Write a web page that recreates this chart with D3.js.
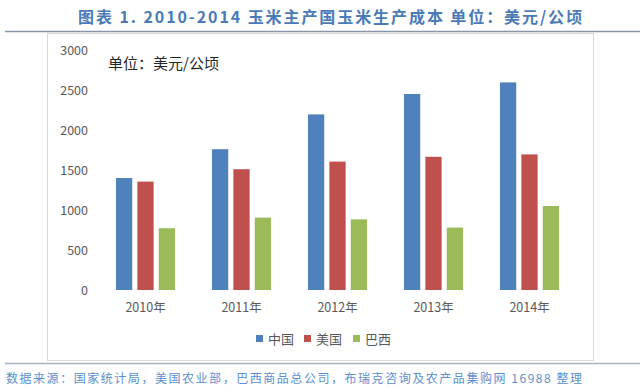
<!DOCTYPE html>
<html><head><meta charset="utf-8">
<script src="https://cdn.jsdelivr.net/npm/d3@7/dist/d3.min.js"></script>
<style>body{margin:0;background:#fff;}svg{display:block;}</style>
</head><body><svg id="c" width="640" height="389"></svg>
<script>
const categories = ["2010年","2011年","2012年","2013年","2014年"];
const seriesNames = ["中国","美国","巴西"];
const china = [1400, 1760, 2195, 2450, 2595];
const usa = [1355, 1510, 1605, 1665, 1695];
const brazil = [772, 905, 883, 780, 1050];
const yTicks = [0, 500, 1000, 1500, 2000, 2500, 3000];
const colors = ["#4F81BD", "#C0504D", "#9BBB59"];
const seriesValues = [china, usa, brazil];

const svg = d3.select("#c");
const font = "'Noto Sans CJK SC', 'Noto Sans', sans-serif";

// title
svg.append("text").attr("x", 78).attr("y", 23)
  .attr("font-family", font).attr("font-weight", "bold").attr("font-size", 16)
  .attr("textLength", 504).attr("lengthAdjust", "spacing")
  .attr("fill", "#4a7ab8").text("图表 1. 2010-2014  玉米主产国玉米生产成本 单位：美元/公顷");
svg.append("line").attr("x1", 5).attr("x2", 640).attr("y1", 31.5).attr("y2", 31.5)
  .attr("stroke", "#8796a8").attr("stroke-width", 1.3);
// chart box
svg.append("rect").attr("x", 47.5).attr("y", 33.5).attr("width", 546).attr("height", 327)
  .attr("fill", "#fff").attr("stroke", "#d9d9d9").attr("stroke-width", 1);
svg.append("line").attr("x1", 5).attr("x2", 640).attr("y1", 363.5).attr("y2", 363.5)
  .attr("stroke", "#a9b4c2").attr("stroke-width", 1.3);

const y = d3.scaleLinear().domain([0, 3000]).range([290, 50]);
const x0 = d3.scaleBand().domain(categories).range([97.5, 577.5]).paddingInner(0.385).paddingOuter(0.1925);
const x1 = d3.scaleBand().domain(seriesNames).range([0, x0.bandwidth()]).paddingInner(0.24);

// y axis
const ya = svg.append("g").attr("transform", "translate(88,0)")
  .call(d3.axisLeft(y).tickValues(yTicks).tickSize(0).tickPadding(0).tickFormat(d3.format("d")));
ya.select(".domain").remove();
ya.selectAll("text").attr("font-family", font).attr("font-size", 12.5).attr("fill", "#595959");

// x axis
const xa = svg.append("g").attr("transform", "translate(0,298)")
  .call(d3.axisBottom(x0).tickSize(0).tickPadding(5));
xa.select(".domain").remove();
xa.selectAll("text").attr("font-family", font).attr("font-size", 12.5).attr("fill", "#595959");

// bars
seriesNames.forEach((s, si) => {
  svg.append("g").selectAll("rect").data(seriesValues[si]).join("rect")
    .attr("x", (d, i) => x0(categories[i]) + x1(s))
    .attr("y", d => y(d))
    .attr("width", x1.bandwidth())
    .attr("height", d => y(0) - y(d))
    .attr("fill", colors[si]);
});

// unit note
svg.append("text").attr("x", 108).attr("y", 69).attr("font-family", font)
  .attr("font-size", 15).attr("fill", "#262626").text("单位：美元/公顷");

// legend
const legendX = [256, 304, 353];
seriesNames.forEach((s, i) => {
  svg.append("rect").attr("x", legendX[i]).attr("y", 335).attr("width", 7).attr("height", 7).attr("fill", colors[i]);
  svg.append("text").attr("x", legendX[i] + 12).attr("y", 343.5).attr("font-family", font)
    .attr("font-size", 13).attr("fill", "#595959").text(s);
});

// source
svg.append("text").attr("x", 6).attr("y", 383).attr("font-family", font)
  .attr("font-size", 12).attr("fill", "#5b8fd0").attr("textLength", 576).attr("lengthAdjust", "spacing")
  .text("数据来源：国家统计局，美国农业部，巴西商品总公司，布瑞克咨询及农产品集购网 16988 整理");
</script></body></html>
